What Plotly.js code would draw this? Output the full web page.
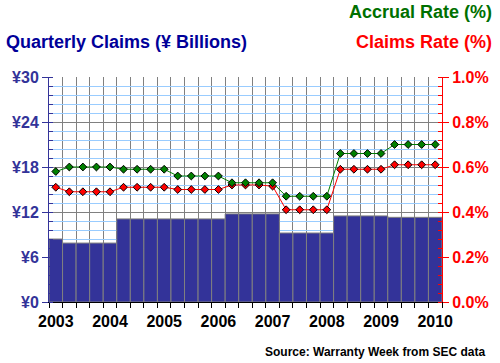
<!DOCTYPE html>
<html>
<head>
<meta charset="utf-8">
<script src="https://cdn.plot.ly/plotly-3.0.1.min.js"></script>
<style>html,body{margin:0;padding:0;background:#fff;}#chart{width:500px;height:363px;}</style>
</head>
<body>
<div id="chart"></div>
<script>
// Quarters 2003 Q1 .. 2010 Q1
const quarters = ['2003 Q1','2003 Q2','2003 Q3','2003 Q4','2004 Q1','2004 Q2','2004 Q3','2004 Q4',
  '2005 Q1','2005 Q2','2005 Q3','2005 Q4','2006 Q1','2006 Q2','2006 Q3','2006 Q4',
  '2007 Q1','2007 Q2','2007 Q3','2007 Q4','2008 Q1','2008 Q2','2008 Q3','2008 Q4',
  '2009 Q1','2009 Q2','2009 Q3','2009 Q4','2010 Q1'];
// Quarterly claims, ¥ billions
const claims = [8.40, 7.86, 7.86, 7.86, 7.86, 11.08, 11.08, 11.08, 11.08, 11.08, 11.08, 11.08, 11.08,
  11.75, 11.75, 11.75, 11.75, 9.20, 9.20, 9.20, 9.20, 11.48, 11.48, 11.48, 11.48, 11.29, 11.29, 11.29, 11.29];
// Accrual rate, %
const accrualRate = [0.58, 0.60, 0.60, 0.60, 0.60, 0.59, 0.59, 0.59, 0.59, 0.56, 0.56, 0.56, 0.56,
  0.53, 0.53, 0.53, 0.53, 0.47, 0.47, 0.47, 0.47, 0.66, 0.66, 0.66, 0.66, 0.70, 0.70, 0.70, 0.70];
// Claims rate, %
const claimsRate = [0.51, 0.49, 0.49, 0.49, 0.49, 0.51, 0.51, 0.51, 0.51, 0.50, 0.50, 0.50, 0.50,
  0.52, 0.52, 0.52, 0.515, 0.41, 0.41, 0.41, 0.41, 0.59, 0.59, 0.59, 0.59, 0.61, 0.61, 0.61, 0.61];
const yearLabels = ['2003','2004','2005','2006','2007','2008','2009','2010'];
const leftTicks = ['¥0','¥6','¥12','¥18','¥24','¥30'];

const xs = quarters.map((q, i) => i);
const yearPos = yearLabels.map(y => quarters.indexOf(y + ' Q1'));

const FONT = 'Liberation Sans, Arial, sans-serif';
const NAVY = '#333399';

const traces = [
  {type: 'bar', x: xs, y: claims, width: 1, hovertext: quarters, hoverinfo: 'text+y', textposition: 'none',
   marker: {color: NAVY, line: {color: '#808080', width: 1}}, yaxis: 'y'},
  {type: 'scatter', mode: 'lines+markers', x: xs, y: claimsRate, yaxis: 'y2',
   line: {color: '#ff0000', width: 1},
   marker: {symbol: 'diamond', size: 6, color: '#ff0000', line: {color: '#000', width: 1}}},
  {type: 'scatter', mode: 'lines+markers', x: xs, y: accrualRate, yaxis: 'y2',
   line: {color: '#008000', width: 1},
   marker: {symbol: 'diamond', size: 6, color: '#008000', line: {color: '#000', width: 1}}}
];

const plotW = 500 - 49 - 58, plotH = 363 - 77 - 61;
const px = x => (x - 49) / plotW;
const py = y => (363 - 61 - y) / plotH;

const layout = {
  width: 500, height: 363,
  margin: {l: 49, r: 58, t: 77, b: 61, pad: 0},
  paper_bgcolor: '#fff', plot_bgcolor: '#fff',
  showlegend: false, bargap: 0,
  font: {family: FONT, size: 16},
  xaxis: {
    range: [-0.5, xs.length - 0.5], zeroline: false,
    showline: true, linecolor: '#000', linewidth: 1,
    tickmode: 'array', tickvals: yearPos, ticktext: yearLabels,
    ticks: '', showgrid: false, ticklabelstandoff: 5,
    tickfont: {family: FONT, size: 16, color: '#000', weight: 'bold'},
    minor: {tick0: -0.5, dtick: 1, ticks: 'outside', ticklen: 5, tickcolor: '#000', tickwidth: 1,
            showgrid: true, gridcolor: '#808080', gridwidth: 1}
  },
  yaxis: {
    range: [0, 30], zeroline: false,
    showline: true, linecolor: NAVY, linewidth: 1,
    tickmode: 'array', tickvals: [0, 6, 12, 18, 24, 30], ticktext: leftTicks,
    ticks: 'outside', ticklen: 6, tickcolor: NAVY,
    tickfont: {family: FONT, size: 16, color: NAVY, weight: 'bold'},
    showgrid: true, gridcolor: '#808080', gridwidth: 1,
    minor: {dtick: 1.2, ticks: 'inside', ticklen: 4, tickcolor: NAVY,
            showgrid: true, gridcolor: '#99ccff', gridwidth: 1}
  },
  yaxis2: {
    overlaying: 'y', side: 'right', range: [0, 1], zeroline: false,
    showline: true, linecolor: '#ff0000', linewidth: 1,
    dtick: 0.2, tickformat: '.1f', ticksuffix: '%',
    ticks: 'outside', ticklen: 6, tickcolor: '#ff0000',
    tickfont: {family: FONT, size: 16, color: '#ff0000', weight: 'bold'},
    showgrid: false,
    minor: {dtick: 0.04, ticks: 'inside', ticklen: 4, tickcolor: '#ff0000', showgrid: false}
  },
  annotations: [
    {text: 'Accrual Rate (%)', xref: 'paper', yref: 'paper', x: px(494), xanchor: 'right',
     y: py(12), yanchor: 'middle', showarrow: false,
     font: {family: FONT, size: 18, color: '#007000', weight: 'bold'}},
    {text: 'Claims Rate (%)', xref: 'paper', yref: 'paper', x: px(494), xanchor: 'right',
     y: py(42), yanchor: 'middle', showarrow: false,
     font: {family: FONT, size: 18, color: '#ff0000', weight: 'bold'}},
    {text: 'Quarterly Claims (¥ Billions)', xref: 'paper', yref: 'paper', x: px(4), xanchor: 'left',
     y: py(42), yanchor: 'middle', showarrow: false,
     font: {family: FONT, size: 18, color: '#000099', weight: 'bold'}},
    {text: 'Source: Warranty Week from SEC data', xref: 'paper', yref: 'paper', x: px(487), xanchor: 'right',
     y: py(352), yanchor: 'middle', showarrow: false,
     font: {family: FONT, size: 12, color: '#000', weight: 'bold'}}
  ]
};

Plotly.newPlot('chart', traces, layout, {displayModeBar: false, staticPlot: true});
</script>
</body>
</html>
